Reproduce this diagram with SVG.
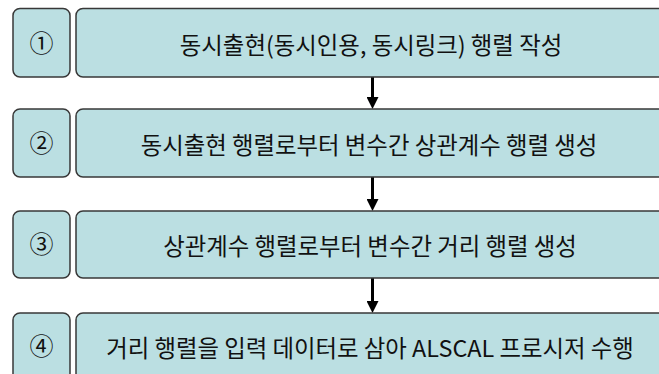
<svg xmlns="http://www.w3.org/2000/svg" width="659" height="374" viewBox="0 0 659 374">
<defs>
<style>
.box{fill:#bbdfe2;stroke:#383838;stroke-width:1.5}
.num{font-family:"Noto Sans CJK KR","Noto Sans",sans-serif;font-size:24px;fill:#111;text-anchor:middle}
.lbl{font-family:"Noto Sans CJK KR","Noto Sans",sans-serif;font-size:23.4px;fill:#111;text-anchor:middle}
.conn{stroke:#000;stroke-width:3;fill:none}
</style>
<marker id="ah" viewBox="0 0 12 12" refX="0" refY="6" markerWidth="12" markerHeight="12" markerUnits="userSpaceOnUse" orient="auto">
<path d="M0,0 L12,6 L0,12 z" fill="#000"/>
</marker>
</defs>
<g id="connectors">
<line class="conn" x1="372.5" y1="77" x2="372.5" y2="97" marker-end="url(#ah)"/>
<line class="conn" x1="372.5" y1="177" x2="372.5" y2="199" marker-end="url(#ah)"/>
<line class="conn" x1="372.5" y1="278" x2="372.5" y2="301" marker-end="url(#ah)"/>
</g>
<g id="step1">
<rect class="box" x="13" y="8.5" width="57" height="68.5" rx="7"/>
<text class="num" x="41.5" y="52">①</text>
<rect class="box" x="76" y="8.5" width="600" height="68.5" rx="7"/>
<text class="lbl" x="371" y="54">동시출현(동시인용, 동시링크) 행렬 작성</text>
</g>
<g id="step2">
<rect class="box" x="13" y="109" width="57" height="68" rx="7"/>
<text class="num" x="41.5" y="152">②</text>
<rect class="box" x="76" y="109" width="600" height="68" rx="7"/>
<text class="lbl" x="369" y="154">동시출현 행렬로부터 변수간 상관계수 행렬 생성</text>
</g>
<g id="step3">
<rect class="box" x="13" y="211" width="57" height="67" rx="7"/>
<text class="num" x="41.5" y="253">③</text>
<rect class="box" x="76" y="211" width="600" height="67" rx="7"/>
<text class="lbl" x="370" y="255">상관계수 행렬로부터 변수간 거리 행렬 생성</text>
</g>
<g id="step4">
<rect class="box" x="13" y="313" width="57" height="68" rx="7"/>
<text class="num" x="41.5" y="355">④</text>
<rect class="box" x="76" y="313" width="600" height="68" rx="7"/>
<text class="lbl" x="370" y="357">거리 행렬을 입력 데이터로 삼아 ALSCAL 프로시저 수행</text>
</g>
</svg>
